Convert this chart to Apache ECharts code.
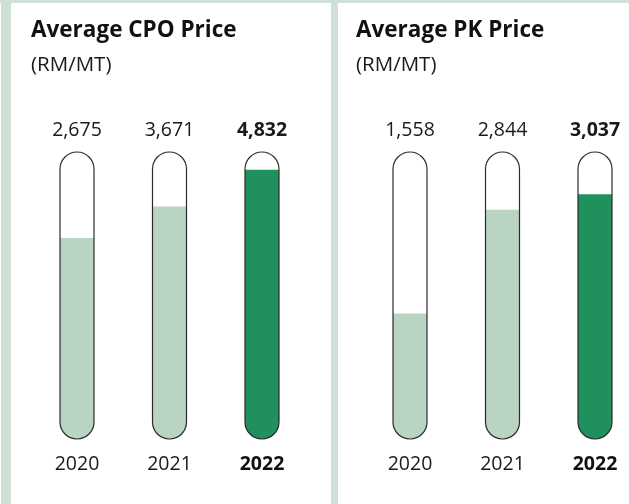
<!DOCTYPE html>
<html>
<head>
<meta charset="utf-8">
<script src="https://cdn.jsdelivr.net/npm/echarts@6/dist/echarts.min.js"></script>
<style>
  html, body { margin: 0; padding: 0; background: #fff; }
  #chart { width: 629px; height: 504px; }
</style>
</head>
<body>
<div id="chart"></div>
<script>
// 年份（横轴类别）
var years = ['2020', '2021', '2022'];
// 平均 CPO 价格 (RM/MT)
var cpoPrice = [2675, 3671, 4832];
// 平均 PK 价格 (RM/MT)
var pkPrice = [1558, 2844, 3037];
// 每个面板胶囊的刻度范围（胶囊底 = min，胶囊顶 = max）
var cpoRange = [-3660, 5390];
var pkRange = [0, 3560];

var lightGreen = '#b9d4c3';
var darkGreen = '#20905d';
var stripColor = '#cfe1d6';
var font = 'Open Sans';

function fmt(v) {
  return v.toLocaleString('en-US');
}

// 画“温度计”形状的胶囊
function makeCapsule(range) {
  return function (params, api) {
    var idx = api.value(0);
    var val = api.value(1);
    var base = api.coord([idx, range[0]]);
    var top = api.coord([idx, range[1]]);
    var lvl = api.coord([idx, val]);
    var w = 34, r = 17;
    var x = base[0] - w / 2;
    var last = idx === years.length - 1;
    return {
      type: 'group',
      children: [
        {
          type: 'rect',
          shape: { x: x, y: top[1], width: w, height: base[1] - top[1], r: r },
          style: { fill: '#fff' }
        },
        {
          type: 'rect',
          shape: { x: x, y: lvl[1], width: w, height: base[1] - lvl[1], r: [0, 0, r, r] },
          style: { fill: last ? darkGreen : lightGreen }
        },
        {
          type: 'rect',
          shape: { x: x, y: top[1], width: w, height: base[1] - top[1], r: r },
          style: { fill: 'none', stroke: '#2b2b2b', lineWidth: 1.2 }
        },
        {
          type: 'text',
          style: {
            x: base[0], y: top[1] - 22,
            text: fmt(val),
            fontFamily: font, fontSize: 19.5,
            fontWeight: last ? 'bold' : 'normal',
            fill: '#1a1a1a',
            align: 'center', verticalAlign: 'middle'
          }
        }
      ]
    };
  };
}

function yearLabel(v, i) {
  return i === years.length - 1 ? '{b|' + v + '}' : '{n|' + v + '}';
}

var axisLabelStyle = {
  margin: 15,
  formatter: yearLabel,
  rich: {
    n: { fontFamily: font, fontSize: 19.5, color: '#1a1a1a' },
    b: { fontFamily: font, fontSize: 19.5, fontWeight: 'bold', color: '#111' }
  }
};

var option = {
  backgroundColor: '#fff',
  animation: false,
  title: [
    {
      text: 'Average CPO Price',
      subtext: '(RM/MT)',
      left: 26, top: 14,
      itemGap: 13,
      textStyle: { fontFamily: font, fontSize: 22.5, fontWeight: 'bold', color: '#111' },
      subtextStyle: { fontFamily: font, fontSize: 20.5, color: '#1a1a1a' }
    },
    {
      text: 'Average PK Price',
      subtext: '(RM/MT)',
      left: 351, top: 14,
      itemGap: 13,
      textStyle: { fontFamily: font, fontSize: 22.5, fontWeight: 'bold', color: '#111' },
      subtextStyle: { fontFamily: font, fontSize: 20.5, color: '#1a1a1a' }
    }
  ],
  graphic: [
    { type: 'rect', shape: { x: 1, y: 0, width: 10, height: 504 }, style: { fill: stripColor } },
    { type: 'rect', shape: { x: 0, y: 0, width: 629, height: 3 }, style: { fill: stripColor } },
    { type: 'rect', shape: { x: 331, y: 0, width: 7, height: 504 }, style: { fill: stripColor } }
  ],
  grid: [
    { left: 77, right: 367, top: 152, bottom: 65 },
    { left: 410, right: 34, top: 152, bottom: 65 }
  ],
  xAxis: [
    {
      gridIndex: 0, type: 'category', data: years, boundaryGap: false,
      axisLine: { show: false }, axisTick: { show: false }, splitLine: { show: false },
      axisLabel: axisLabelStyle
    },
    {
      gridIndex: 1, type: 'category', data: years, boundaryGap: false,
      axisLine: { show: false }, axisTick: { show: false }, splitLine: { show: false },
      axisLabel: axisLabelStyle
    }
  ],
  yAxis: [
    { gridIndex: 0, type: 'value', min: cpoRange[0], max: cpoRange[1], show: false },
    { gridIndex: 1, type: 'value', min: pkRange[0], max: pkRange[1], show: false }
  ],
  series: [
    {
      type: 'custom', xAxisIndex: 0, yAxisIndex: 0,
      renderItem: makeCapsule(cpoRange),
      data: cpoPrice.map(function (v, i) { return [i, v]; }),
      clip: false
    },
    {
      type: 'custom', xAxisIndex: 1, yAxisIndex: 1,
      renderItem: makeCapsule(pkRange),
      data: pkPrice.map(function (v, i) { return [i, v]; }),
      clip: false
    }
  ]
};

var myChart = echarts.init(document.getElementById('chart'));
myChart.setOption(option);
</script>
</body>
</html>
